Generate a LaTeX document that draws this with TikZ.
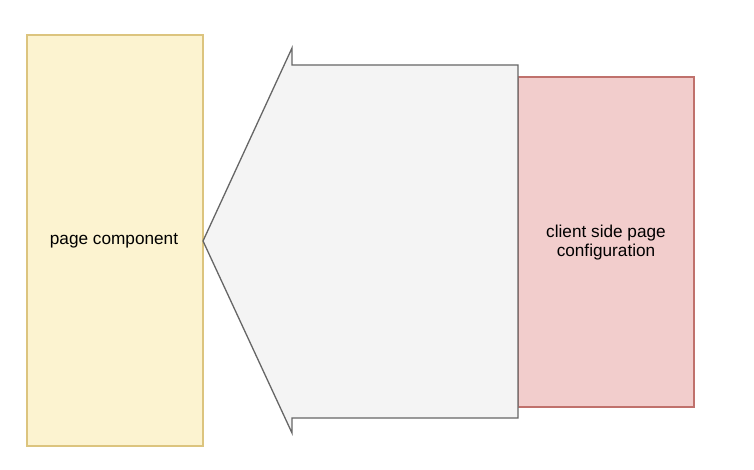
\documentclass[tikz,border=0pt]{standalone}
\usepackage{fontspec}
\setmainfont{Liberation Sans}
\definecolor{yfill}{HTML}{FCF3D0}
\definecolor{ydraw}{HTML}{DCC47E}
\definecolor{rfill}{HTML}{F2CDCC}
\definecolor{rdraw}{HTML}{C0716C}
\definecolor{gfill}{HTML}{F4F4F4}
\definecolor{gdraw}{HTML}{666666}
\begin{document}
\begin{tikzpicture}[x=1pt,y=-1pt,
  lbl/.style={font=\fontsize{17.2}{19}\selectfont, align=center, text=black}]
\useasboundingbox (0,0) rectangle (754,470);
\fill[white] (0,0) rectangle (754,470);
% yellow box
\draw[ydraw, fill=yfill, line width=1.3pt] (27,35) rectangle (203,446);
\node[lbl] (pc) at (114,241) {page component};
% red box
\draw[rdraw, fill=rfill, line width=1.3pt] (518,77) rectangle (694,407);
\node[lbl] (cs) at (606,243) {client side page\\configuration};
% big arrow
\draw[gdraw, fill=gfill, line width=1.3pt, line join=miter]
  (203,241) -- (292,48) -- (292,65) -- (518,65) -- (518,418) -- (292,418) -- (292,433) -- cycle;
\end{tikzpicture}
\end{document}
